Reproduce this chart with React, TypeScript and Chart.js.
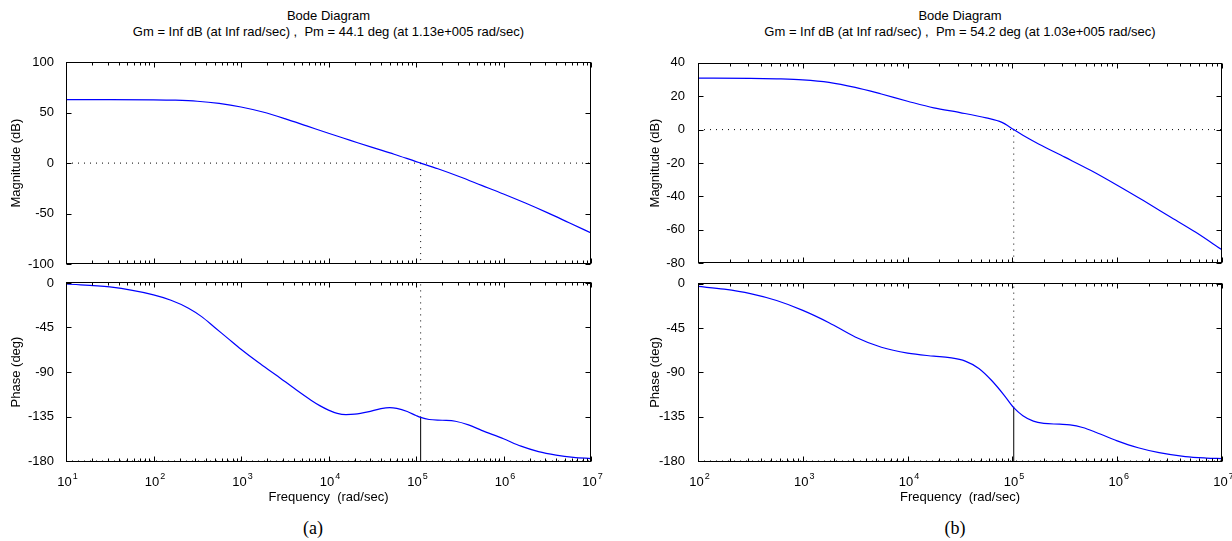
import React, { useEffect, useRef } from "react";
import { Chart, registerables } from "chart.js";

Chart.register(...registerables);

const FONT = "'Liberation Sans', Arial, Helvetica, sans-serif";
Chart.defaults.font.family = FONT;
Chart.defaults.font.size = 13;
Chart.defaults.color = "#000";

// ---------- (a) ----------
const FREQ_A_MAG = [10, 31.62, 100, 177.8, 316.2, 562.3, 1000, 1778, 3162, 5623, 10000, 17780, 31620, 56230, 100000, 113000, 177800, 316200, 562300, 1e6, 1778000, 3162000, 5623000, 1e7];
const MAG_A = [62.8, 62.8, 62.6, 62.2, 61.2, 59, 55.5, 50.5, 44, 36.8, 29.5, 22.5, 15.5, 8.8, 1.5, 0, -5.6, -13.5, -22, -30.5, -39.5, -49, -59, -69];
const FREQ_A_PHASE = [10, 31.62, 100, 158.5, 251.2, 354.8, 501.2, 707.9, 1000, 1585, 2512, 4266, 6310, 7943, 10000, 12590, 15850, 19950, 28180, 39810, 50120, 60260, 79430, 100000, 113000, 141300, 199500, 281800, 398100, 562300, 1e6, 1585000, 2512000, 3981000, 6310000, 1e7];
const PHASE_A = [-1, -4, -12, -17.5, -25.5, -34, -45, -56, -67, -80.5, -93, -108, -118.5, -124, -128.5, -131.8, -133, -132.6, -130.3, -127, -126, -126.8, -130, -134, -135.9, -138, -138.8, -139.8, -143.5, -149, -157.5, -165, -170.5, -174, -176.3, -177.5];
const WC_A = 1.13e5;
const PM_A = 44.1;
const TITLE_A = ["Bode Diagram", "Gm = Inf dB (at Inf rad/sec) ,  Pm = 44.1 deg (at 1.13e+005 rad/sec)"];
const X_TICKS_A = [1e1, 1e2, 1e3, 1e4, 1e5, 1e6, 1e7];
const X_EXP_A = ["1", "2", "3", "4", "5", "6", "7"];
const MAG_TICKS_A = [-100, -50, 0, 50, 100];

// ---------- (b) ----------
const FREQ_B_MAG = [100, 316.2, 562.3, 1000, 1778, 3162, 5623, 10000, 17780, 31620, 56230, 79430, 103000, 125900, 177800, 316200, 562300, 1e6, 1778000, 3162000, 5623000, 1e7];
const MAG_B = [30.8, 30.7, 30.4, 29.8, 28.3, 25.3, 21.3, 17, 13, 10.2, 7, 4.3, 0, -3.4, -8.6, -16.5, -24.5, -33.3, -42.5, -52, -61.5, -72];
const FREQ_B_PHASE = [100, 177.8, 316.2, 562.3, 1000, 1778, 3162, 5623, 10000, 17780, 25120, 35480, 47860, 63100, 83180, 103000, 125900, 158500, 199500, 281800, 354800, 467700, 631000, 1e6, 1585000, 2512000, 4467000, 7079000, 1e7];
const PHASE_B = [-2.7, -5.5, -10, -17, -27, -39.5, -54, -64.5, -70.5, -73.5, -75, -78.5, -86, -98, -113, -125.8, -134, -139.5, -141.8, -142.6, -143.3, -146, -151, -159.5, -166.5, -171.5, -175.5, -177, -177.6];
const WC_B = 1.03e5;
const PM_B = 54.2;
const TITLE_B = ["Bode Diagram", "Gm = Inf dB (at Inf rad/sec) ,  Pm = 54.2 deg (at 1.03e+005 rad/sec)"];
const X_TICKS_B = [1e2, 1e3, 1e4, 1e5, 1e6, 1e7];
const X_EXP_B = ["2", "3", "4", "5", "6", "7"];
const MAG_TICKS_B = [-80, -60, -40, -20, 0, 20, 40];

// ---------- shared ----------
const PHASE_TICKS = [-180, -135, -90, -45, 0];
const PHASE_RANGE = [-181, 1];
const X_BASE = "10";
const X_TITLE = "Frequency  (rad/sec)";
const MAG_TITLE = "Magnitude (dB)";
const PHASE_TITLE = "Phase (deg)";

const BLUE = "rgb(0,0,255)";

const matlabAxes = {
  id: "matlabAxes",
  afterDatasetsDraw(chart: any, _args: any, opts: any) {
    const { ctx, chartArea: a, scales } = chart;
    const x = scales.x;
    const y = scales.y;
    ctx.save();
    ctx.strokeStyle = "#000";
    ctx.lineWidth = 1;
    ctx.setLineDash([]);
    const L = Math.round(a.left) + 0.5;
    const R = Math.round(a.right) - 0.5;
    const T = Math.round(a.top) + 0.5;
    const B = Math.round(a.bottom) - 0.5;
    ctx.strokeRect(L, T, R - L, B - T);
    ctx.beginPath();
    const lo = Math.round(Math.log10(x.min));
    const hi = Math.round(Math.log10(x.max));
    for (let k = lo; k <= hi; k++) {
      for (let m = 1; m <= 9; m++) {
        const v = m * Math.pow(10, k);
        if (v > x.max * 1.0001) break;
        const px = Math.round(x.getPixelForValue(v)) + 0.5;
        const len = m === 1 ? 5 : 3;
        ctx.moveTo(px, T);
        ctx.lineTo(px, T + len);
        ctx.moveTo(px, B);
        ctx.lineTo(px, B - len);
      }
    }
    for (const t of y.ticks) {
      const py = Math.round(y.getPixelForValue(t.value)) + 0.5;
      ctx.moveTo(L, py);
      ctx.lineTo(L + 5, py);
      ctx.moveTo(R, py);
      ctx.lineTo(R - 5, py);
    }
    ctx.stroke();

    // decade labels: "10" with a raised exponent
    if (opts && opts.showX) {
      ctx.fillStyle = "#000";
      ctx.textBaseline = "alphabetic";
      const baseFont = "13px " + FONT;
      const expFont = "9px " + FONT;
      opts.xTicks.forEach((v: number, i: number) => {
        const px = x.getPixelForValue(v);
        ctx.font = baseFont;
        const wb = ctx.measureText(X_BASE).width;
        ctx.font = expFont;
        const we = ctx.measureText(opts.xExp[i]).width;
        const start = px - (wb + we) / 2 + 1;
        ctx.font = baseFont;
        ctx.textAlign = "left";
        ctx.fillText(X_BASE, start, a.bottom + 24);
        ctx.font = expFont;
        ctx.fillText(opts.xExp[i], start + wb + 1, a.bottom + 17);
      });
    }
    ctx.restore();
  },
};

type PanelProps = {
  left: number;
  top: number;
  width: number;
  height: number;
  padRight: number;
  padTop: number;
  padBottom: number;
  yAxisWidth: number;
  yTitlePad: number;
  yTickPad: number;
  kind: "mag" | "phase";
  freqs: number[];
  values: number[];
  wc: number;
  pm: number;
  xTicks: number[];
  xExp: string[];
  yTicks: number[];
  yRange: number[];
};

function Panel(p: PanelProps) {
  const ref = useRef<HTMLCanvasElement | null>(null);
  useEffect(() => {
    if (!ref.current) return;
    const fmin = p.xTicks[0];
    const fmax = p.xTicks[p.xTicks.length - 1];
    const curve = p.freqs.map((f, i) => ({ x: f, y: p.values[i] }));
    const dotted = { borderColor: "#000", borderWidth: 1, borderDash: [1, 5], pointRadius: 0, tension: 0 };
    const datasets: any[] = [
      { data: curve, borderColor: BLUE, borderWidth: 1.2, pointRadius: 0, cubicInterpolationMode: "monotone" },
    ];
    if (p.kind === "mag") {
      datasets.push({ ...dotted, data: [{ x: fmin, y: 0 }, { x: fmax, y: 0 }] });
      datasets.push({ ...dotted, data: [{ x: p.wc, y: 0 }, { x: p.wc, y: p.yRange[0] }] });
    } else {
      const ph = -180 + p.pm;
      datasets.push({ ...dotted, data: [{ x: fmin, y: -180 }, { x: fmax, y: -180 }] });
      datasets.push({ ...dotted, data: [{ x: p.wc, y: ph }, { x: p.wc, y: p.yRange[1] }] });
      datasets.push({ borderColor: "#000", borderWidth: 1, pointRadius: 0, data: [{ x: p.wc, y: -180 }, { x: p.wc, y: ph }] });
    }
    const showX = p.kind === "phase";
    const chart = new Chart(ref.current, {
      type: "line",
      data: { datasets },
      plugins: [matlabAxes],
      options: {
        animation: false,
        responsive: false,
        events: [],
        layout: { padding: { left: 0, right: p.padRight, top: p.padTop, bottom: p.padBottom } },
        plugins: {
          legend: { display: false },
          tooltip: { enabled: false },
          title: { display: false },
          matlabAxes: { showX, xTicks: p.xTicks, xExp: p.xExp },
        },
        scales: {
          x: {
            type: "logarithmic",
            min: fmin,
            max: fmax,
            display: showX,
            grid: { display: false },
            border: { display: false },
            afterBuildTicks: (s: any) => {
              s.ticks = p.xTicks.map((v) => ({ value: v }));
            },
            afterFit: (s: any) => {
              if (showX) s.height = 48;
            },
            ticks: { display: false },
            title: { display: true, text: X_TITLE, font: { size: 13 }, padding: { top: 0, bottom: 5 } },
          },
          y: {
            type: "linear",
            min: p.yRange[0],
            max: p.yRange[1],
            grid: { display: false },
            border: { display: false },
            afterBuildTicks: (s: any) => {
              s.ticks = p.yTicks.map((v) => ({ value: v }));
            },
            afterFit: (s: any) => {
              s.width = p.yAxisWidth;
            },
            ticks: { padding: p.yTickPad, font: { size: 13 }, callback: (v: any) => String(v) },
            title: {
              display: true,
              text: p.kind === "mag" ? MAG_TITLE : PHASE_TITLE,
              font: { size: 13 },
              padding: { top: p.yTitlePad, bottom: 0 },
            },
          },
        },
      } as any,
    });
    return () => chart.destroy();
  }, []);
  return (
    <div style={{ position: "absolute", left: p.left, top: p.top, width: p.width, height: p.height }}>
      <canvas ref={ref} width={p.width} height={p.height} style={{ width: p.width, height: p.height, display: "block" }} />
    </div>
  );
}

const titleStyle: React.CSSProperties = {
  position: "absolute",
  top: 8,
  fontFamily: FONT,
  fontSize: 13,
  lineHeight: "16px",
  textAlign: "center",
  whiteSpace: "pre",
  color: "#000",
};

const captionStyle: React.CSSProperties = {
  position: "absolute",
  top: 517,
  width: 100,
  fontFamily: "'Liberation Serif', 'Times New Roman', serif",
  fontSize: 18,
  lineHeight: "22px",
  textAlign: "center",
  color: "#000",
};

export default function App() {
  return (
    <div style={{ position: "absolute", left: 0, top: 0, width: 1232, height: 541, overflow: "hidden", background: "#fff" }}>
      <div style={{ ...titleStyle, left: 66, width: 525 }}>{TITLE_A.join("\n")}</div>
      <div style={{ ...titleStyle, left: 698, width: 524 }}>{TITLE_B.join("\n")}</div>

      <Panel left={0} top={50} width={610} height={226} padRight={19} padTop={12} padBottom={10} yAxisWidth={66} yTitlePad={9} yTickPad={4}
        kind="mag" freqs={FREQ_A_MAG} values={MAG_A} wc={WC_A} pm={PM_A} xTicks={X_TICKS_A} xExp={X_EXP_A} yTicks={MAG_TICKS_A} yRange={[-100, 100]} />
      <Panel left={0} top={270} width={610} height={240} padRight={19} padTop={12} padBottom={0} yAxisWidth={66} yTitlePad={9} yTickPad={4}
        kind="phase" freqs={FREQ_A_PHASE} values={PHASE_A} wc={WC_A} pm={PM_A} xTicks={X_TICKS_A} xExp={X_EXP_A} yTicks={PHASE_TICKS} yRange={PHASE_RANGE} />
      <Panel left={620} top={50} width={632} height={226} padRight={30} padTop={12} padBottom={10} yAxisWidth={78} yTitlePad={28} yTickPad={5}
        kind="mag" freqs={FREQ_B_MAG} values={MAG_B} wc={WC_B} pm={PM_B} xTicks={X_TICKS_B} xExp={X_EXP_B} yTicks={MAG_TICKS_B} yRange={[-80, 40]} />
      <Panel left={620} top={270} width={632} height={240} padRight={30} padTop={12} padBottom={0} yAxisWidth={78} yTitlePad={28} yTickPad={5}
        kind="phase" freqs={FREQ_B_PHASE} values={PHASE_B} wc={WC_B} pm={PM_B} xTicks={X_TICKS_B} xExp={X_EXP_B} yTicks={PHASE_TICKS} yRange={PHASE_RANGE} />

      <div style={{ ...captionStyle, left: 263 }}>(a)</div>
      <div style={{ ...captionStyle, left: 905 }}>(b)</div>
    </div>
  );
}
